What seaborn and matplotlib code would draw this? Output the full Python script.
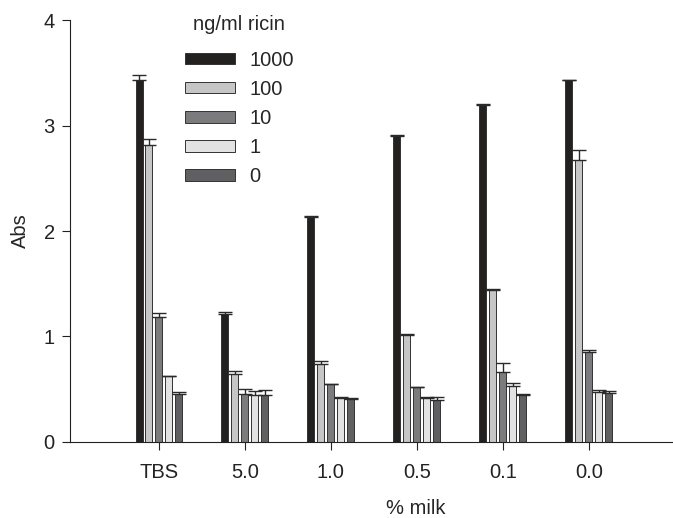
import numpy as np
import pandas as pd
import seaborn as sns
import matplotlib.pyplot as plt

# data
milk = ["TBS", "5.0", "1.0", "0.5", "0.1", "0.0"]
ricin = ["1000", "100", "10", "1", "0"]

abs_1000 = [3.43, 1.21, 2.135, 2.90, 3.20, 3.43]
abs_100 = [2.82, 0.645, 0.74, 1.017, 1.44, 2.67]
abs_10 = [1.18, 0.455, 0.547, 0.518, 0.66, 0.853]
abs_1 = [0.62, 0.44, 0.42, 0.414, 0.53, 0.47]
abs_0 = [0.455, 0.445, 0.41, 0.40, 0.445, 0.46]

err_1000 = [0.05, 0.02, 0.005, 0.01, 0.005, 0.005]
err_100 = [0.05, 0.025, 0.025, 0.005, 0.013, 0.10]
err_10 = [0.04, 0.045, 0.006, 0.005, 0.09, 0.02]
err_1 = [0.005, 0.04, 0.005, 0.013, 0.026, 0.026]
err_0 = [0.02, 0.05, 0.005, 0.027, 0.01, 0.02]

colors = ["#231f20", "#c6c6c6", "#7b7b7d", "#e2e2e2", "#606062"]

values = [abs_1000, abs_100, abs_10, abs_1, abs_0]
errors = [err_1000, err_100, err_10, err_1, err_0]

df = pd.DataFrame({
    "milk": np.tile(milk, len(ricin)),
    "ricin": np.repeat(ricin, len(milk)),
    "Abs": np.concatenate(values),
})

sns.set_style("ticks")
plt.rcParams["font.family"] = ["Liberation Sans", "DejaVu Sans"]

fs = 14.5

fig = plt.figure(figsize=(6.73, 5.18), dpi=100)
ax = fig.add_axes([0.104, 0.147, 0.896, 0.814])

sns.barplot(data=df, x="milk", y="Abs", hue="ricin", order=milk, hue_order=ricin,
            palette=colors, width=0.58, gap=0.3, edgecolor="#333333", linewidth=0.7,
            errorbar=None, ax=ax)

# upward-only error bars on each bar
for cont, err in zip(ax.containers, errors):
    xs = [p.get_x() + p.get_width() / 2 for p in cont.patches]
    hs = [p.get_height() for p in cont.patches]
    ax.errorbar(xs, hs, yerr=[np.zeros(len(err)), err], fmt="none",
                ecolor="#2a2a2a", elinewidth=1.0, capsize=5, capthick=1.0)

ax.set_ylim(0, 4)
ax.set_xlim(-1.035, 5.98)
ax.set_yticks([0, 1, 2, 3, 4])
ax.tick_params(axis="both", labelsize=fs, length=6, width=0.8, colors="#222222")
ax.tick_params(axis="x", pad=9)
ax.tick_params(axis="y", pad=5)
ax.set_ylabel("Abs", fontsize=fs, labelpad=10)
ax.set_xlabel("% milk", fontsize=fs)
ax.xaxis.set_label_coords(0.574, -0.135)
sns.despine(ax=ax)
for s in ["left", "bottom"]:
    ax.spines[s].set_linewidth(0.8)
    ax.spines[s].set_color("#222222")

leg = ax.legend(title="ng/ml ricin", loc="upper left", bbox_to_anchor=(0.16, 1.055),
                frameon=False, fontsize=fs, title_fontsize=fs,
                handlelength=2.5, handleheight=0.5, labelspacing=0.5,
                handletextpad=0.7)
leg._legend_box.sep = 12

fig.savefig("out.png", dpi=100)
